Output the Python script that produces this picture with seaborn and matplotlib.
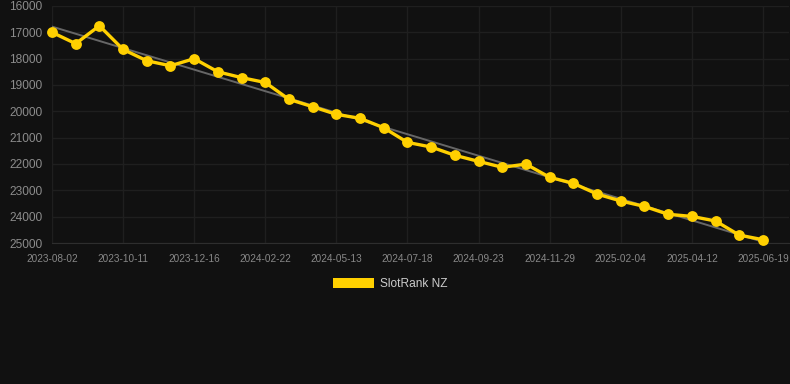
import matplotlib
matplotlib.use('Agg')
import matplotlib.pyplot as plt
from matplotlib.patches import Patch
import numpy as np
import pandas as pd
import seaborn as sns

# Data (rank, lower is better -> inverted axis)
dates = ['2023-08-02', '2023-08-25', '2023-09-18', '2023-10-11', '2023-11-02',
         '2023-11-24', '2023-12-16', '2024-01-08', '2024-01-30', '2024-02-22',
         '2024-03-18', '2024-04-15', '2024-05-13', '2024-06-04', '2024-06-26',
         '2024-07-18', '2024-08-09', '2024-08-31', '2024-09-23', '2024-10-16',
         '2024-11-07', '2024-11-29', '2024-12-21', '2025-01-13', '2025-02-04',
         '2025-02-26', '2025-03-21', '2025-04-12', '2025-05-04', '2025-05-27',
         '2025-06-19']
ranks = [17000, 17430, 16750, 17650, 18080, 18270, 18000, 18500, 18720, 18905,
         19545, 19825, 20115, 20265, 20625, 21180, 21355, 21670, 21900, 22125,
         22005, 22505, 22735, 23140, 23405, 23610, 23910, 23990, 24165, 24700,
         24875]
y_ticks = [16000, 17000, 18000, 19000, 20000, 21000, 22000, 23000, 24000, 25000]
series_name = 'SlotRank NZ'

bg = '#111111'
yellow = '#FFD000'

df = pd.DataFrame({'date': dates, 'rank': ranks})
df['pos'] = range(len(df))

sns.set_style('dark')
plt.rcParams['font.family'] = ['Liberation Sans', 'DejaVu Sans']

fig = plt.figure(figsize=(7.9, 3.84), dpi=100, facecolor=bg)
ax = fig.add_axes([52 / 790, 1 - 243 / 384, (789 - 52) / 790, 237 / 384])
ax.set_facecolor(bg)

# trend line
sns.regplot(data=df, x='pos', y='rank', scatter=False, ci=None, ax=ax,
            line_kws={'color': '#666666', 'linewidth': 1.4, 'zorder': 2})

sns.lineplot(data=df, x='pos', y='rank', ax=ax, color=yellow, linewidth=2.4,
             marker='o', markersize=7.8, markeredgewidth=0, zorder=3,
             clip_on=False)

ax.set_xlim(0, 31.1)
ax.set_ylim(25000, 16000)
ax.set_yticks(y_ticks)
ax.set_yticklabels([str(v) for v in y_ticks])
ax.set_xticks(df['pos'][::3])
ax.set_xticklabels(df['date'][::3])

ax.grid(True, color='#1f1f1f', linewidth=1)
ax.tick_params(axis='y', colors='#8c8c8c', labelsize=8.6, length=0, pad=7)
ax.tick_params(axis='x', colors='#888888', labelsize=7.2, length=3, pad=5,
               color='#333333')
ax.set_xlabel('')
ax.set_ylabel('')
for side in ['top', 'right', 'left']:
    ax.spines[side].set_visible(False)
ax.spines['bottom'].set_color('#2e2e2e')

handle = Patch(facecolor=yellow, edgecolor='none')
leg = fig.legend([handle], [series_name], loc='center',
                 bbox_to_anchor=(390 / 790, 1 - 284 / 384), frameon=False,
                 fontsize=8.6, handlelength=3.4, handleheight=0.95,
                 handletextpad=0.5)
for t in leg.get_texts():
    t.set_color('#cccccc')

fig.savefig('out.png', dpi=100, facecolor=bg)
